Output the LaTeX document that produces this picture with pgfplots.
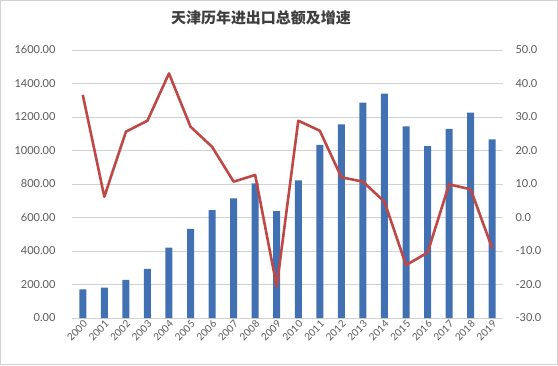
\documentclass[border=0pt]{standalone}
\usepackage{pgfplots}
\pgfplotsset{compat=1.18}
\usepackage{fontspec}
\setmainfont{Lato}
\newfontfamily\cjk{Noto Sans CJK SC}
\definecolor{barblue}{RGB}{65,113,178}
\definecolor{linered}{RGB}{190,72,70}
\definecolor{txtgray}{RGB}{89,89,89}
\definecolor{gridgray}{RGB}{210,210,210}
\begin{document}
\begin{tikzpicture}[x=1pt,y=1pt]
\path[use as bounding box] (0,0) rectangle (558,365);
\draw[gridgray, line width=1pt] (0.5,0.5) rectangle (557.5,364.5);
\node[font=\cjk\bfseries\fontsize{15}{18}\selectfont, text=txtgray!70!black] at (261,347) {天津历年进出口总额及增速};
\begin{axis}[at={(72pt,47pt)}, anchor=south west, scale only axis, width=431pt, height=268pt,
  xmin=-0.5, xmax=19.5, ymin=0, ymax=1600, ytick={0,200,...,1600},
  xtick={0,...,19},
  xticklabels={2000,2001,2002,2003,2004,2005,2006,2007,2008,2009,2010,2011,2012,2013,2014,2015,2016,2017,2018,2019},
  tick label style={font=\fontsize{11}{13}\selectfont, text=txtgray},
  x tick label style={rotate=45, anchor=north east, inner sep=1pt, font=\fontsize{10}{12}\selectfont},
  y tick label style={xshift=-13pt, /pgf/number format/.cd, fixed, fixed zerofill, precision=2, 1000 sep={}},
  /pgf/number format/assume math mode=true,
  ymajorgrids, grid style={gridgray, line width=0.8pt},
  axis x line*=bottom, axis y line*=left,
  y axis line style={draw=none}, x axis line style={gridgray, line width=0.8pt, -},
  major tick length=0pt,
  clip=false]
\addplot[ybar, bar width=7pt, fill=barblue, draw=none] coordinates {
(0,171.6) (1,181.8) (2,228.2) (3,293.4) (4,420.3) (5,532.8) (6,644.6) (7,714.5) (8,804.0) (9,638.3)
(10,822.0) (11,1033.9) (12,1156.2) (13,1285.3) (14,1339.1) (15,1143.5) (16,1026.5) (17,1129.4) (18,1225.9) (19,1066.0)};
\end{axis}
\begin{axis}[at={(72pt,47pt)}, anchor=south west, scale only axis, width=431pt, height=268pt,
  xmin=-0.5, xmax=19.5, ymin=-30, ymax=50, ytick={-30,-20,...,50},
  axis x line=none, axis y line*=right, y axis line style={draw=none},
  tick label style={font=\fontsize{11}{13}\selectfont, text=txtgray},
  y tick label style={xshift=9pt, anchor=west, /pgf/number format/.cd, fixed, fixed zerofill, precision=1},
  /pgf/number format/assume math mode=true,
  major tick length=0pt, clip=false]
\addplot[linered, line width=2.6pt, line join=round] coordinates {
(0,36.6) (1,6.2) (2,25.6) (3,28.9) (4,43.0) (5,27.1) (6,21.1) (7,10.7) (8,12.7) (9,-20.6)
(10,28.9) (11,25.9) (12,12.0) (13,10.7) (14,4.7) (15,-14.2) (16,-10.5) (17,9.9) (18,8.4) (19,-9.2)};
\end{axis}
\end{tikzpicture}
\end{document}
